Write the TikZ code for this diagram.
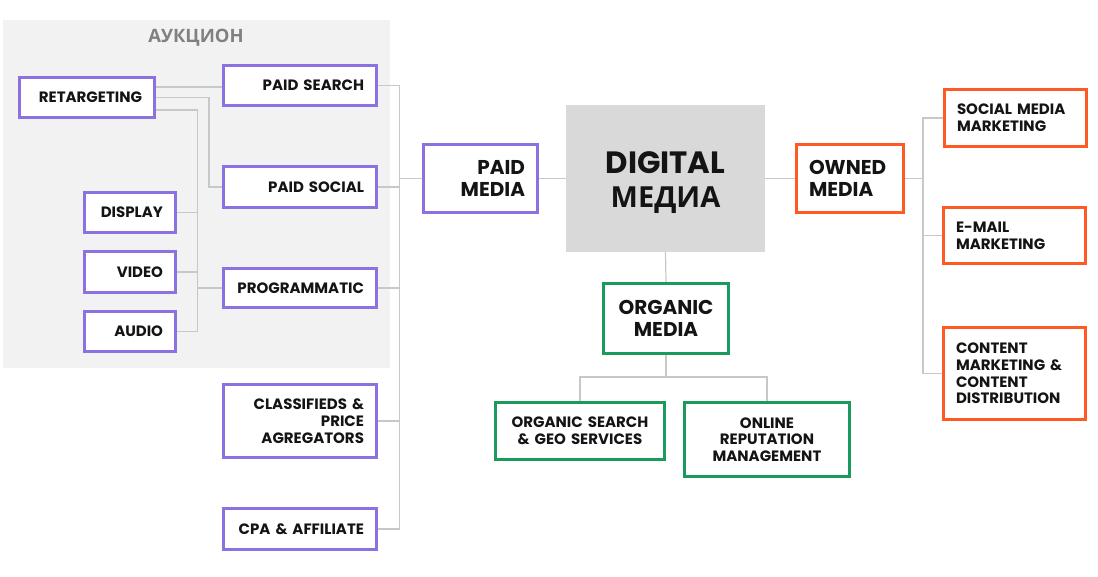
\documentclass[tikz,border=0pt]{standalone}
\usepackage{fontspec}
\setmainfont{Poppins}
\newfontfamily\cyr{Open Sans}
\definecolor{pur}{HTML}{8C72E0}
\definecolor{org}{HTML}{FF5A24}
\definecolor{grn}{HTML}{1A9A5C}
\definecolor{conncol}{HTML}{C8C8C8}
\definecolor{txt}{HTML}{141414}
\definecolor{bgcol}{HTML}{F2F2F2}
\definecolor{digcol}{HTML}{D9D9D9}
\pgfdeclarelayer{back}
\pgfdeclarelayer{mid}
\pgfsetlayers{back,mid,main}
\begin{document}
\begin{tikzpicture}[x=1pt,y=-1pt,
 mbox/.style={draw, line width=3pt, fill=white, text=txt, inner ysep=0pt, inner xsep=12.5pt, font=\fontsize{15}{16.7}\selectfont\bfseries},
 pbox/.style={mbox, draw=pur, align=right},
 obox/.style={mbox, draw=org, align=left},
 gbox/.style={mbox, draw=grn, align=center},
 bigtxt/.style={font=\fontsize{20}{22}\selectfont\bfseries},
 link/.style={draw=conncol, line width=1.2pt}]
\useasboundingbox (0,0) rectangle (1098,576);
\begin{pgfonlayer}{back}
\fill[bgcol] (3,20) rectangle (390,368);
\end{pgfonlayer}
\node[font=\cyr\fontsize{18.4}{20}\selectfont\bfseries, text=gray] (auk) at (196,38) {АУКЦИОН};
% paid side
\node[pbox, text width=110pt, minimum height=40pt] (retarg) at (87,97.5) {RETARGETING};
\node[pbox, text width=128pt, minimum height=40pt] (psearch) at (300,85.5) {PAID SEARCH};
\node[pbox, text width=128pt, minimum height=41pt] (psocial) at (300,187) {PAID SOCIAL};
\node[pbox, text width=128pt, minimum height=39pt] (prog) at (300,288) {PROGRAMMATIC};
\node[pbox, text width=66pt, minimum height=40pt] (display) at (130,212.5) {DISPLAY};
\node[pbox, text width=66pt, minimum height=41pt] (video) at (130,272) {VIDEO};
\node[pbox, text width=66pt, minimum height=40pt] (audio) at (130,331.5) {AUDIO};
\node[pbox, text width=128pt, minimum height=73pt] (classif) at (300,421) {CLASSIFIEDS \&\\PRICE\\AGREGATORS};
\node[pbox, text width=128pt, minimum height=41pt] (cpa) at (300,529) {CPA \& AFFILIATE};
\node[pbox, bigtxt, text width=89pt, minimum height=68pt] (pmedia) at (480.5,178.5) {PAID\\MEDIA};
% center
\node[fill=digcol, minimum width=199pt, minimum height=147pt, inner sep=0pt] (digital) at (665.5,178.5) {};
\node[text=txt, align=center, inner sep=0pt, font=\fontsize{30.8}{34}\selectfont\bfseries]
  (digtxt) at ([yshift=-4.5pt]digital.center) {DIGITAL\\{\cyr\fontsize{29}{34}\selectfont МЕДИА}};
\node[obox, bigtxt, text width=82pt, minimum height=68pt] (owned) at (850,178.5) {OWNED\\MEDIA};
\node[gbox, bigtxt, text width=100pt, minimum height=70pt] (orgmedia) at (666,318.5) {ORGANIC\\MEDIA};
\node[gbox, text width=144pt, minimum height=57pt] (orgsearch) at (580,431) {ORGANIC SEARCH\\\& GEO SERVICES};
\node[gbox, text width=140pt, minimum height=74pt] (online) at (767,439.5) {ONLINE\\REPUTATION\\MANAGEMENT};
% owned side
\node[obox, text width=117pt, minimum height=57pt] (smm) at (1015.5,118) {SOCIAL MEDIA\\MARKETING};
\node[obox, text width=117pt, minimum height=56pt] (email) at (1014.5,235.5) {E-MAIL\\MARKETING};
\node[obox, text width=117pt, minimum height=92pt] (content) at (1014.5,373.5) {CONTENT\\MARKETING \&\\CONTENT\\DISTRIBUTION};
% connectors
\coordinate (ltrunk) at (399.5,0);
\coordinate (jx1) at (209,0);
\coordinate (jx2) at (197.7,0);
\coordinate (rtrunk) at (923,0);
\coordinate (ojoin) at (666,377);
\coordinate (r1) at ([yshift=10.5pt]retarg.east);
\coordinate (r3) at ([yshift=-12.5pt]retarg.east);
\begin{pgfonlayer}{mid}
\draw[link] (r1) -- (r1 -| psearch.west);
\draw[link] (retarg.east) -| (jx1 |- psocial.west) -- (psocial.west);
\draw[link] (r3) -| (jx2 |- audio.east) -- (audio.east);
\draw[link] (display.east) -- (display.east -| jx2);
\draw[link] (video.east) -- (video.east -| jx2);
\draw[link] (jx2 |- prog.west) -- (prog.west);
\draw[link] (psearch.east) -- (psearch.east -| ltrunk) -- (cpa.east -| ltrunk) -- (cpa.east);
\draw[link] (psocial.east) -- (psocial.east -| ltrunk);
\draw[link] (prog.east) -- (prog.east -| ltrunk);
\draw[link] (classif.east) -- (classif.east -| ltrunk);
\draw[link] (pmedia.west -| ltrunk) -- (pmedia.west);
\draw[link] (pmedia.east) -- (digital.west);
\draw[link] (digital.east) -- (owned.west);
\draw[link] (digital.south) -- (orgmedia.north);
\draw[link] (orgmedia.south) -- (ojoin);
\draw[link] (orgsearch.north) |- (ojoin) -| (online.north);
\draw[link] (owned.east) -- (owned.east -| rtrunk);
\draw[link] (smm.west) -- (smm.west -| rtrunk) -- (content.west -| rtrunk) -- (content.west);
\draw[link] (email.west) -- (email.west -| rtrunk);
\end{pgfonlayer}
\end{tikzpicture}
\end{document}
